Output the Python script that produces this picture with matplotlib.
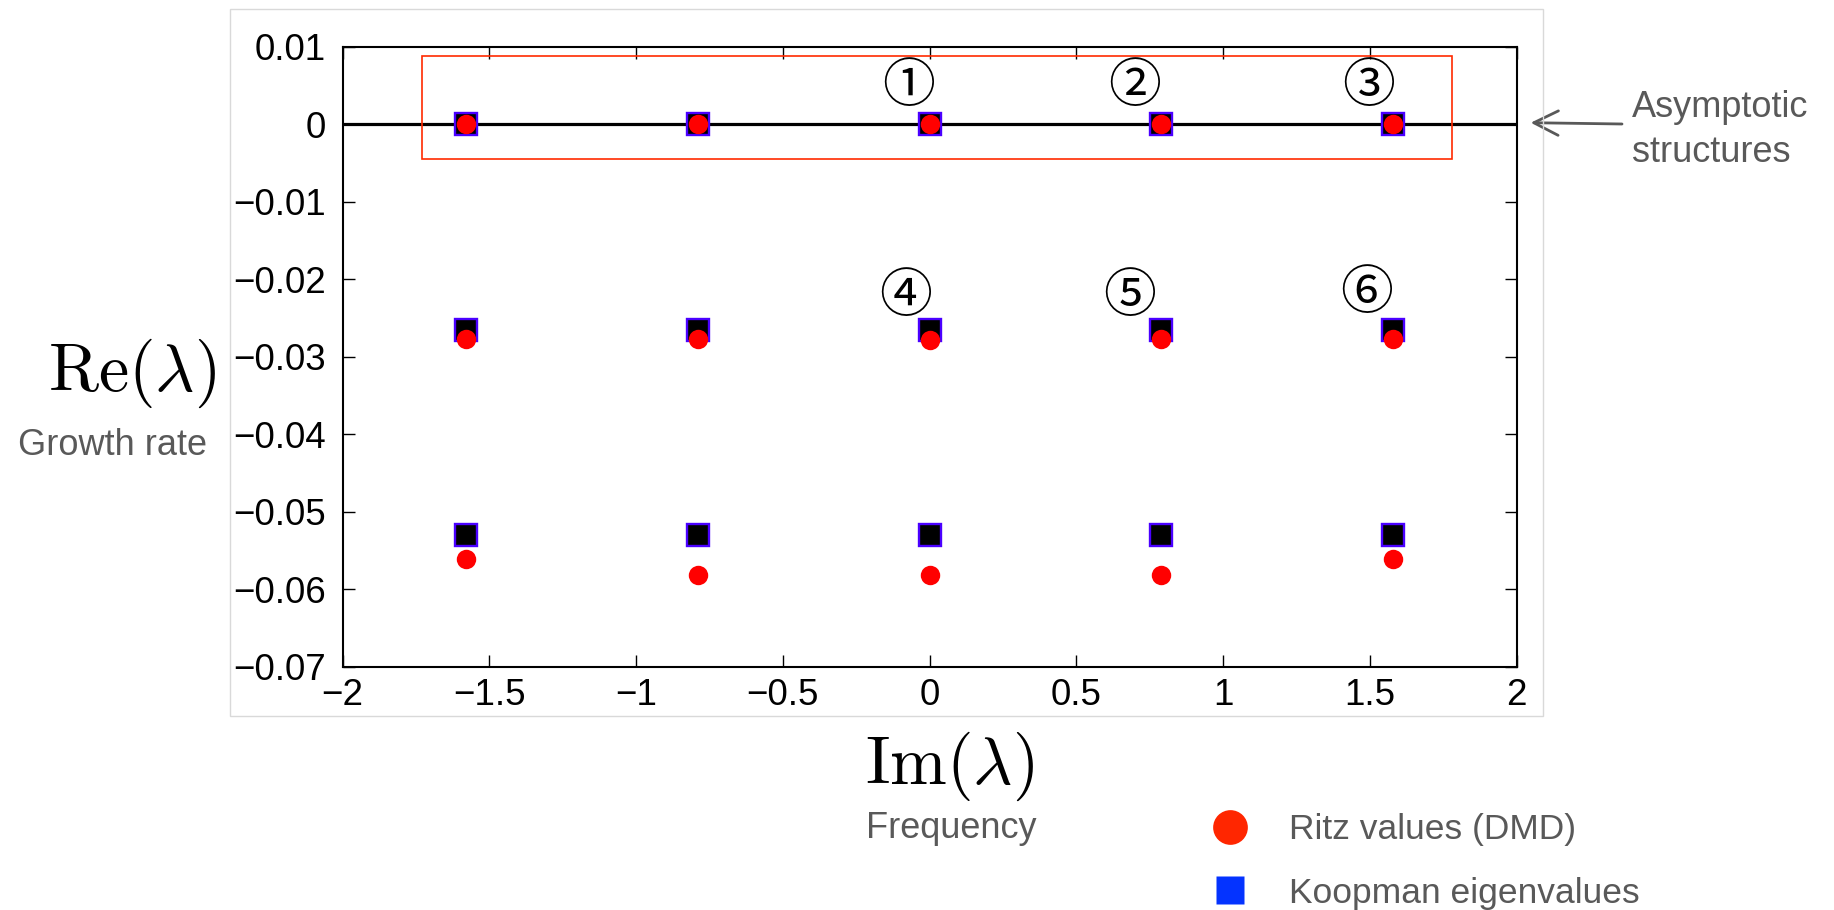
import matplotlib
matplotlib.use("Agg")
import matplotlib.pyplot as plt
from matplotlib.lines import Line2D
from matplotlib.patches import Rectangle

plt.rcParams['font.family'] = ['Liberation Sans', 'DejaVu Sans']
plt.rcParams['mathtext.fontset'] = 'cm'

# imaginary part (frequency) of each mode
freq_koopman = [-1.58, -0.79, 0.0, 0.79, 1.58]
freq_ritz = [-1.578, -0.788, 0.0, 0.788, 1.578]

# real part (growth rate), one list per row
koop_row1 = [0.0, 0.0, 0.0, 0.0, 0.0]
koop_row2 = [-0.0265, -0.0265, -0.0265, -0.0265, -0.0265]
koop_row3 = [-0.053, -0.053, -0.053, -0.053, -0.053]
ritz_row1 = [0.0, 0.0, 0.0, 0.0, 0.0]
ritz_row2 = [-0.0277, -0.0277, -0.0278, -0.0277, -0.0277]
ritz_row3 = [-0.0561, -0.0582, -0.0582, -0.0582, -0.0561]

# circled labels and where they sit
mode_labels = ['①', '②', '③', '④', '⑤', '⑥']
label_x = [-0.07, 0.70, 1.495, -0.08, 0.683, 1.49]
label_y = [0.0048, 0.0048, 0.0048, -0.0222, -0.0222, -0.0218]

# red box around the asymptotic structures
box_x = [-1.73, 1.779]
box_y = [-0.0045, 0.0088]

xticks = [-2, -1.5, -1, -0.5, 0, 0.5, 1, 1.5, 2]
xticklabels = ['\u22122', '\u22121.5', '\u22121', '\u22120.5', '0', '0.5', '1', '1.5', '2']
yticks = [0.01, 0, -0.01, -0.02, -0.03, -0.04, -0.05, -0.06, -0.07]
yticklabels = ['0.01', '0', '\u22120.01', '\u22120.02', '\u22120.03', '\u22120.04',
               '\u22120.05', '\u22120.06', '\u22120.07']

GRAY = '#595959'
W, H = 1834, 910

fig = plt.figure(figsize=(W / 100, H / 100), dpi=100)
ax = fig.add_axes([342.5 / W, 1 - 666.7 / H, 1174 / W, 620 / H])

# thin gray frame of the pasted matlab figure
fig.patches.append(Rectangle((230 / W, 1 - 716 / H), 1312.5 / W, 707 / H,
                             transform=fig.transFigure, fill=False,
                             edgecolor='#D9D9D9', lw=1.0))

ax.axhline(0, color='black', lw=2.3, zorder=2)

for row in [koop_row1, koop_row2, koop_row3]:
    ax.plot(freq_koopman, row, 's', ms=15.5, mfc='black', mec='#4A00FF',
            mew=1.7, zorder=3)
for row in [ritz_row1, ritz_row2, ritz_row3]:
    ax.plot(freq_ritz, row, 'o', ms=14, mfc='#FF0000', mec='#FF0000',
            mew=0, zorder=4)

ax.add_patch(Rectangle((box_x[0], box_y[0]), box_x[1] - box_x[0], box_y[1] - box_y[0],
                       fill=False, edgecolor='#FF2A00', lw=1.2, zorder=5))

for lab, lx, ly in zip(mode_labels, label_x, label_y):
    ax.text(lx, ly, lab, fontsize=38, ha='center', va='center',
            family=['Noto Sans CJK JP', 'DejaVu Sans'])

ax.set_xlim(-2, 2)
ax.set_ylim(-0.07, 0.01)
ax.set_xticks(xticks)
ax.set_xticklabels(xticklabels)
ax.set_yticks(yticks)
ax.set_yticklabels(yticklabels)
ax.tick_params(direction='in', length=8.5, width=1, labelsize=26.5,
               top=True, right=True)
ax.tick_params(axis='y', pad=12)
ax.tick_params(axis='x', pad=8)
for sp in ax.spines.values():
    sp.set_linewidth(1.5)

# axis labels and notes
fig.text(132 / W, 1 - 373 / H, r'$\mathrm{Re}(\lambda)$', fontsize=49,
         ha='center', va='center')
fig.text(112 / W, 1 - 445 / H, 'Growth rate', fontsize=26, color=GRAY,
         ha='center', va='center')
fig.text(950 / W, 1 - 766 / H, r'$\mathrm{Im}(\lambda)$', fontsize=49,
         ha='center', va='center')
fig.text(951 / W, 1 - 829 / H, 'Frequency', fontsize=26, color=GRAY,
         ha='center', va='center')
fig.text(1632 / W, 1 - 130 / H, 'Asymptotic\nstructures', fontsize=26,
         color=GRAY, ha='left', va='center', linespacing=1.36)
ax.annotate('', xy=(1530.7 / W, 1 - 122.7 / H), xytext=(1622 / W, 1 - 124 / H),
            xycoords='figure fraction', textcoords='figure fraction',
            arrowprops=dict(arrowstyle='->', color=GRAY, lw=2.0,
                            mutation_scale=44, shrinkA=0, shrinkB=0))

handles = [Line2D([], [], ls='none', marker='o', ms=25, mfc='#FF2600', mec='none'),
           Line2D([], [], ls='none', marker='s', ms=19.5, mfc='#0433FF', mec='none')]
fig.legend(handles, ['Ritz values (DMD)', 'Koopman eigenvalues'],
           loc='upper left', bbox_to_anchor=(1189 / W, 1 - 799 / H),
           frameon=False, fontsize=25.5, labelcolor=GRAY, handlelength=1.5,
           handletextpad=0.92, labelspacing=0.86, borderaxespad=0)

fig.savefig('out.png', dpi=100)
